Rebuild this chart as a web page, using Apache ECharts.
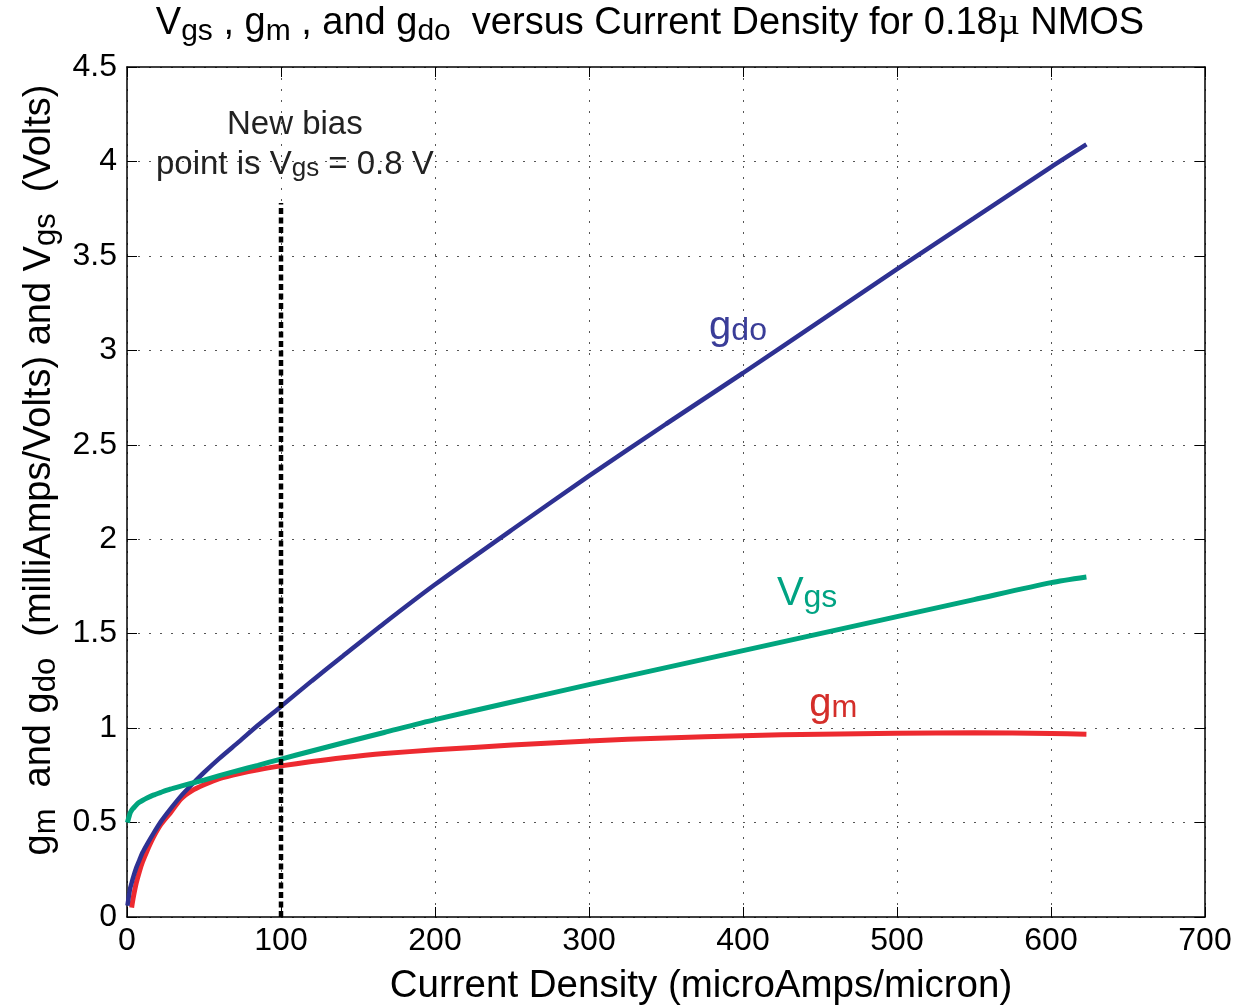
<!DOCTYPE html>
<html>
<head>
<meta charset="utf-8">
<script src="https://cdn.jsdelivr.net/npm/echarts@6/dist/echarts.min.js"></script>
<style>
  html, body { margin: 0; padding: 0; background: #ffffff; }
  #chart { width: 1244px; height: 1008px; }
</style>
</head>
<body>
<div id="chart"></div>
<script>
// Current density sweep (microAmps/micron) for a 0.18u NMOS device
const currentDensity = [0.3, 2, 3, 4, 6, 8, 10, 13, 17, 22, 28, 35, 42, 50, 60, 73, 85, 100, 120, 140, 167, 200, 250, 300, 350, 400, 450, 500, 550, 600, 623];
// Output conductance g_do (mA/V)
const gdoValues = [0.06, 0.15, 0.18, 0.21, 0.26, 0.30, 0.34, 0.385, 0.44, 0.505, 0.57, 0.64, 0.70, 0.765, 0.84, 0.93, 1.015, 1.115, 1.25, 1.38, 1.555, 1.76, 2.05, 2.335, 2.61, 2.88, 3.155, 3.43, 3.70, 3.97, 4.09];
// Transconductance g_m (mA/V)
const gmValues = [null, null, 0.05, 0.10, 0.18, 0.24, 0.29, 0.35, 0.42, 0.49, 0.55, 0.625, 0.668, 0.70, 0.733, 0.76, 0.78, 0.80, 0.823, 0.843, 0.865, 0.885, 0.91, 0.932, 0.948, 0.96, 0.968, 0.973, 0.975, 0.972, 0.968];
// Gate-source voltage V_gs (V)
const vgsValues = [0.50, 0.55, 0.565, 0.575, 0.593, 0.607, 0.617, 0.63, 0.645, 0.66, 0.677, 0.693, 0.708, 0.725, 0.748, 0.777, 0.803, 0.836, 0.879, 0.921, 0.977, 1.045, 1.138, 1.23, 1.32, 1.41, 1.50, 1.59, 1.68, 1.77, 1.80];
// Bias point marker at 100 uA/um
const biasX = [100, 100];
const biasY = [0, 3.78];
// Axis ticks
const xTicks = [0, 100, 200, 300, 400, 500, 600, 700];
const yTicks = [0, 0.5, 1, 1.5, 2, 2.5, 3, 3.5, 4, 4.5];

const FONT = '"Liberation Sans", Arial, Helvetica, sans-serif';

const pair = (xs, ys) => xs.map((x, i) => [x, ys[i]]);

// rich-text styles: main text and a lowered, smaller subscript
function subStyles(size, subSize, lh, drop, color) {
  return {
    t: { fontFamily: FONT, fontWeight: 'normal', fontSize: size, lineHeight: lh, verticalAlign: 'top', color: color },
    s: { fontFamily: FONT, fontWeight: 'normal', fontSize: subSize, lineHeight: lh, verticalAlign: 'top', padding: [drop, 0, 0, 0], color: color },
    mu: { fontFamily: '"Liberation Serif", "DejaVu Serif", serif', fontWeight: 'normal', fontSize: size, lineHeight: lh, verticalAlign: 'top', color: color }
  };
}

const chart = echarts.init(document.getElementById('chart'), null, { renderer: 'canvas' });

const gridStyle = { color: '#555555', width: 1, type: [2, 9] };
const axisLineStyle = { color: '#000000', width: 1.5 };
const tickStyle = { inside: true, length: 10, lineStyle: { color: '#000000', width: 1 } };

const option = {
  backgroundColor: '#ffffff',
  animation: false,
  title: {
    left: 650,
    textAlign: 'center',
    top: 0,
    padding: [5, 0, 0, 0],
    text: '{t|V}{s|gs}{t| , g}{s|m}{t| , and g}{s|do}{t|  versus Current Density for 0.18}{mu|µ}{t| NMOS}',
    textStyle: { fontWeight: 'normal', rich: subStyles(38, 30, 40, 12, '#000000') }
  },
  grid: { left: 127, right: 39, top: 67, bottom: 91, containLabel: false, outerBoundsMode: 'none' },
  xAxis: [
    {
      type: 'value',
      min: xTicks[0],
      max: xTicks[xTicks.length - 1],
      interval: xTicks[1] - xTicks[0],
      name: 'Current Density (microAmps/micron)',
      nameLocation: 'middle',
      nameGap: 50,
      nameTextStyle: { fontFamily: FONT, fontSize: 38.5, color: '#000000', padding: [0, 0, 0, 70] },
      axisLine: { onZero: false, lineStyle: axisLineStyle },
      axisTick: tickStyle,
      axisLabel: { fontFamily: FONT, fontSize: 32, color: '#000000', margin: 8 },
      splitLine: { show: true, lineStyle: gridStyle }
    },
    {
      type: 'value',
      position: 'top',
      min: xTicks[0],
      max: xTicks[xTicks.length - 1],
      interval: xTicks[1] - xTicks[0],
      axisLine: { onZero: false, lineStyle: axisLineStyle },
      axisTick: tickStyle,
      axisLabel: { show: false },
      splitLine: { show: false }
    }
  ],
  yAxis: [
    {
      type: 'value',
      min: yTicks[0],
      max: yTicks[yTicks.length - 1],
      interval: yTicks[1] - yTicks[0],
      name: '{t|g}{s|m}{t|  and g}{s|do}{t|  (milliAmps/Volts) and V}{s|gs}{t|  (Volts)}',
      nameLocation: 'middle',
      nameRotate: 90,
      nameGap: 62,
      nameTextStyle: { padding: [0, 0, 0, 44], rich: subStyles(38, 31, 42, 10, '#000000') },
      axisLine: { onZero: false, lineStyle: axisLineStyle },
      axisTick: tickStyle,
      axisLabel: { fontFamily: FONT, fontSize: 32, color: '#000000', margin: 10 },
      splitLine: { show: true, lineStyle: gridStyle }
    },
    {
      type: 'value',
      position: 'right',
      min: yTicks[0],
      max: yTicks[yTicks.length - 1],
      interval: yTicks[1] - yTicks[0],
      axisLine: { onZero: false, lineStyle: axisLineStyle },
      axisTick: tickStyle,
      axisLabel: { show: false },
      splitLine: { show: false }
    }
  ],
  series: [
    {
      name: 'gm',
      type: 'line',
      data: pair(currentDensity, gmValues),
      showSymbol: false,
      smooth: 0.25,
      lineStyle: { color: '#ED2A30', width: 5 },
      z: 2,
      markPoint: {
        symbol: 'circle', symbolSize: 0, silent: true,
        data: [{ coord: [443, 1.11] }],
        label: {
          show: true, position: 'right', distance: 0,
          formatter: '{t|g}{s|m}',
          rich: subStyles(40, 31, 44, 8, '#D42E2A')
        }
      }
    },
    {
      name: 'gdo',
      type: 'line',
      data: pair(currentDensity, gdoValues),
      showSymbol: false,
      smooth: 0.25,
      lineStyle: { color: '#2E3192', width: 4.5 },
      z: 3,
      markPoint: {
        symbol: 'circle', symbolSize: 0, silent: true,
        data: [{ coord: [378, 3.11] }],
        label: {
          show: true, position: 'right', distance: 0,
          formatter: '{t|g}{s|do}',
          rich: subStyles(40, 32, 44, 8, '#3A3D98')
        }
      }
    },
    {
      name: 'vgs',
      type: 'line',
      data: pair(currentDensity, vgsValues),
      showSymbol: false,
      smooth: 0.25,
      lineStyle: { color: '#00A57E', width: 5 },
      z: 4,
      markPoint: {
        symbol: 'circle', symbolSize: 0, silent: true,
        data: [{ coord: [422, 1.70] }],
        label: {
          show: true, position: 'right', distance: 0,
          formatter: '{t|V}{s|gs}',
          rich: subStyles(40, 32, 44, 8, '#00A383')
        }
      }
    },
    {
      name: 'bias',
      type: 'line',
      data: pair(biasX, biasY),
      showSymbol: false,
      lineStyle: { color: '#000000', width: 4.5, type: [6, 3.5] },
      z: 5,
      markPoint: {
        symbol: 'circle', symbolSize: 0, silent: true,
        data: [{ coord: [109, 4.07] }],
        label: {
          show: true, position: 'inside', align: 'center',
          formatter: '{t|New bias}\n{t|point is V}{s|gs}{t| = 0.8 V}',
          rich: subStyles(33, 26, 40, 8, '#222222')
        }
      }
    }
  ]
};

chart.setOption(option);
</script>
</body>
</html>
